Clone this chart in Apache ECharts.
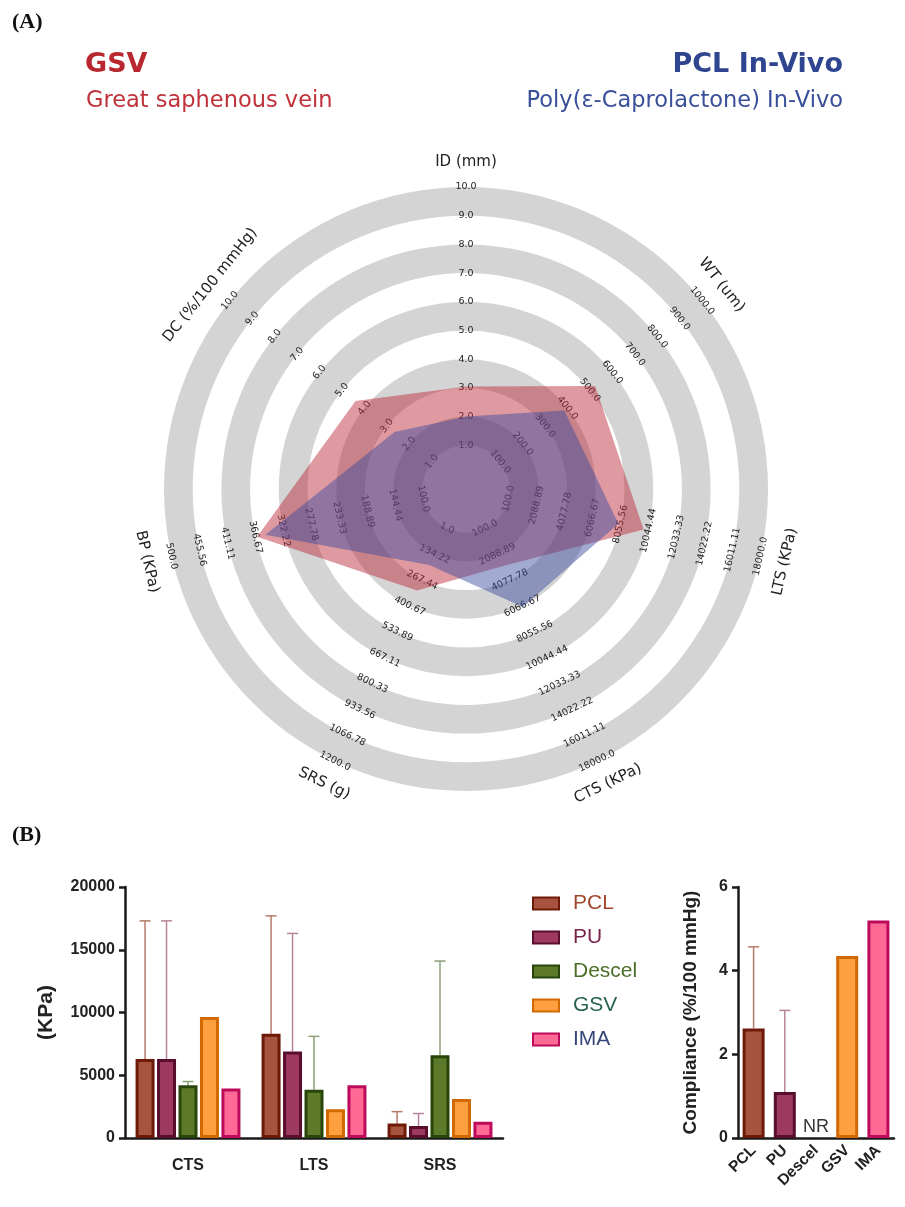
<!DOCTYPE html>
<html><head><meta charset="utf-8">
<script src="https://cdn.jsdelivr.net/npm/echarts@6/dist/echarts.min.js"></script>
<style>html,body{margin:0;padding:0;background:#fff}#c{width:905px;height:1207px}</style>
</head><body><div id="c"></div>
<script>
// ---------- Radar (A) ----------
// axes listed counter-clockwise starting at the top
const radarAxes = ['ID (mm)', 'DC (%/100 mmHg)', 'BP (KPa)', 'SRS (g)', 'CTS (KPa)', 'LTS (KPa)', 'WT (um)'];
const ticksID  = ['1.0','2.0','3.0','4.0','5.0','6.0','7.0','8.0','9.0','10.0'];
const ticksDC  = ['1.0','2.0','3.0','4.0','5.0','6.0','7.0','8.0','9.0','10.0'];
const ticksBP  = ['100.0','144.44','188.89','233.33','277.78','322.22','366.67','411.11','455.56','500.0'];
const ticksSRS = ['1.0','134.22','267.44','400.67','533.89','667.11','800.33','933.56','1066.78','1200.0'];
const ticksCTS = ['100.0','2088.89','4077.78','6066.67','8055.56','10044.44','12033.33','14022.22','16011.11','18000.0'];
const ticksLTS = ['100.0','2088.89','4077.78','6066.67','8055.56','10044.44','12033.33','14022.22','16011.11','18000.0'];
const ticksWT  = ['100.0','200.0','300.0','400.0','500.0','600.0','700.0','800.0','900.0','1000.0'];
const radarTicks = [ticksID, ticksDC, ticksBP, ticksSRS, ticksCTS, ticksLTS, ticksWT];
// values in axis order above
const gsvRadar = [3.05, 4.4, 364, 321, 3000, 9700, 523];
const pclRadar = [2.0, 2.66, 351, 190, 6150, 7900, 386];

// ---------- Bars (B) ----------
const barCats = ['CTS', 'LTS', 'SRS'];
const groups = ['PCL', 'PU', 'Descel', 'GSV', 'IMA'];
const pclVals = [6300, 8300, 1150];
const puVals = [6300, 6900, 950];
const descelVals = [4200, 3850, 6600];
const gsvVals = [9650, 2300, 3100];
const imaVals = [3950, 4200, 1300];
const pclErr = [17300, 17700, 2100];
const puErr = [17300, 16300, 1950];
const descelErr = [4500, 8100, 14100];
const yTicksKPa = [0, 5000, 10000, 15000, 20000];

const compCats = ['PCL', 'PU', 'Descel', 'GSV', 'IMA'];
const compVals = [2.62, 1.1, 0, 4.35, 5.2];
const compErr = [4.57, 3.05, null, null, null];

// ---------- styles ----------
const fills = ['#a6543e', '#9e3a5f', '#5c7a2a', '#ffa040', '#ff6996'];
const borders = ['#6e1a08', '#5a0e2d', '#28460a', '#d26900', '#be0a5a'];
const errColors = ['#b57a68', '#b6849a', '#8c9f78'];
const legendColors = ['#a0482d', '#7a234b', '#4b6e28', '#286450', '#374678'];

const BAR_W = 19, BAR_GAP = 0.13, STEP = BAR_W * (1 + BAR_GAP);

function rotFor(i) {
  let a = 90 + i * 360 / radarAxes.length - 90;
  while (a > 90) a -= 180;
  while (a <= -90) a += 180;
  return a;
}

const indicators = radarAxes.map((name, i) => {
  const t = radarTicks[i].map(Number);
  const step = (t[t.length - 1] - t[0]) / (t.length - 1);
  const r = rotFor(i);
  return {
    name: name,
    min: t[0] - step,
    max: t[t.length - 1],
    nameRotate: r,
    axisLabel: {
      rotate: r,
      formatter: (v, idx) => idx === 0 ? '' : radarTicks[i][idx - 1]
    }
  };
});

const chart = echarts.init(document.getElementById('c'), null, {renderer: 'canvas'});
const sans = 'Liberation Sans, Arial, sans-serif';
const dj = 'DejaVu Sans, sans-serif';

const barSeries = [pclVals, puVals, descelVals, gsvVals, imaVals].map((d, s) => ({
  name: groups[s], type: 'bar', xAxisIndex: 0, yAxisIndex: 0,
  data: d, barWidth: BAR_W, barGap: (BAR_GAP * 100) + '%',
  itemStyle: {color: fills[s], borderColor: borders[s], borderWidth: 3},
  z: 3
}));

const errData = [];
[pclErr, puErr, descelErr].forEach((arr, s) => {
  const vals = [pclVals, puVals, descelVals][s];
  arr.forEach((e, c) => errData.push([c, s, vals[c], e]));
});

function errRender(step) {
  return function (params, api) {
    const c = api.value(0), s = api.value(1), v = api.value(2), e = api.value(3);
    const p0 = api.coord([c, v]);
    const p1 = api.coord([c, e]);
    const x = p0[0] + (s - 2) * step;
    const st = {stroke: errColors[s], lineWidth: 1.5};
    return {type: 'group', children: [
      {type: 'line', shape: {x1: x, y1: p0[1], x2: x, y2: p1[1]}, style: st},
      {type: 'line', shape: {x1: x - 5.5, y1: p1[1], x2: x + 5.5, y2: p1[1]}, style: st}
    ]};
  };
}

const compErrData = [];
compErr.forEach((e, c) => { if (e != null) compErrData.push([c, c, compVals[c], e]); });

const axisLineStyle = {color: '#1a1a1a', width: 2.5};

const option = {
  backgroundColor: '#ffffff',
  animation: false,
  title: [
    {text: '(A)', left: 12, top: 11, padding: 0, textStyle: {fontFamily: 'Liberation Serif, serif', fontWeight: 'bold', fontSize: 22, color: '#111'}},
    {text: 'GSV', left: 85, top: 51, padding: 0, textStyle: {fontFamily: dj, fontWeight: 'bold', fontSize: 27, color: '#b8272f'}},
    {text: 'Great saphenous vein', left: 86, top: 90, padding: 0, textStyle: {fontFamily: dj, fontWeight: 'normal', fontSize: 22.5, color: '#c0323b'}},
    {text: 'PCL In-Vivo', right: 62, top: 51, padding: 0, textStyle: {fontFamily: dj, fontWeight: 'bold', fontSize: 27, color: '#2f4590'}},
    {text: 'Poly(ε-Caprolactone) In-Vivo', right: 62, top: 90, padding: 0, textStyle: {fontFamily: dj, fontWeight: 'normal', fontSize: 22.5, color: '#3a4f9a'}},
    {text: '(B)', left: 12, top: 824, padding: 0, textStyle: {fontFamily: 'Liberation Serif, serif', fontWeight: 'bold', fontSize: 22, color: '#111'}}
  ],
  radar: {
    center: [466, 489],
    radius: [15, 302],
    startAngle: 90,
    shape: 'circle',
    splitNumber: 10,
    indicator: indicators,
    axisName: {color: '#222', fontSize: 15, fontFamily: dj, align: 'center', verticalAlign: 'middle'},
    axisNameGap: 25,
    splitArea: {show: true, areaStyle: {color: ['#ffffff', '#d4d4d4']}},
    splitLine: {show: false},
    axisLine: {show: false},
    axisTick: {show: false},
    axisLabel: {show: true, color: '#222', fontSize: 9.5, fontFamily: dj, margin: 0, align: 'center', verticalAlign: 'middle', hideOverlap: false}
  },
  legend: {
    left: 532, top: 893, padding: 0, orient: 'vertical', itemWidth: 26, itemHeight: 12, itemGap: 13,
    icon: 'rect',
    textStyle: {fontFamily: sans, fontSize: 21, padding: [0, 0, 0, 9]},
    data: groups.map((g, s) => ({name: g, textStyle: {color: legendColors[s]}}))
  },
  grid: [
    {left: 125, top: 887, width: 378, height: 251},
    {left: 738, top: 887, width: 156, height: 251}
  ],
  xAxis: [
    {type: 'category', gridIndex: 0, data: barCats,
     axisLine: {lineStyle: axisLineStyle}, axisTick: {alignWithLabel: true, length: 7, lineStyle: axisLineStyle},
     axisLabel: {fontFamily: sans, fontWeight: 'bold', fontSize: 16, color: '#222', margin: 20}},
    {type: 'category', gridIndex: 1, data: compCats,
     axisLine: {lineStyle: axisLineStyle}, axisTick: {alignWithLabel: true, length: 7, lineStyle: axisLineStyle},
     axisLabel: {fontFamily: sans, fontWeight: 'bold', fontSize: 15.5, color: '#222', rotate: 45, margin: 10, interval: 0}}
  ],
  yAxis: [
    {type: 'value', gridIndex: 0, min: yTicksKPa[0], max: yTicksKPa[yTicksKPa.length - 1], interval: yTicksKPa[1] - yTicksKPa[0],
     name: '(KPa)', nameLocation: 'middle', nameGap: 68,
     nameTextStyle: {fontFamily: sans, fontWeight: 'bold', fontSize: 21, color: '#222'},
     axisLine: {show: true, lineStyle: axisLineStyle}, axisTick: {show: true, length: 6, lineStyle: axisLineStyle},
     splitLine: {show: false},
     axisLabel: {fontFamily: sans, fontWeight: 'bold', fontSize: 16, color: '#222', margin: 10, formatter: v => String(v)}},
    {type: 'value', gridIndex: 1, min: 0, max: 6, interval: 2,
     name: 'Compliance (%/100 mmHg)', nameLocation: 'middle', nameGap: 38,
     nameTextStyle: {fontFamily: sans, fontWeight: 'bold', fontSize: 19, color: '#222'},
     axisLine: {show: true, lineStyle: axisLineStyle}, axisTick: {show: true, length: 6, lineStyle: axisLineStyle},
     splitLine: {show: false},
     axisLabel: {fontFamily: sans, fontWeight: 'bold', fontSize: 16, color: '#222', margin: 10}}
  ],
  series: [
    {
      type: 'radar',
      symbol: 'none',
      lineStyle: {width: 0},
      data: [
        {name: 'GSV', value: gsvRadar, areaStyle: {color: 'rgba(186,40,56,0.68)'}},
        {name: 'PCL In-Vivo', value: pclRadar, areaStyle: {color: 'rgba(58,76,158,0.68)'}}
      ]
    },
    ...barSeries,
    {
      type: 'custom', xAxisIndex: 0, yAxisIndex: 0, z: 2,
      renderItem: errRender(STEP), data: errData
    },
    {
      type: 'bar', xAxisIndex: 1, yAxisIndex: 1, barWidth: 22, z: 3,
      data: compVals.map((v, c) => ({
        value: v,
        itemStyle: c === 2 ? {color: 'rgba(0,0,0,0)', borderWidth: 0} : {color: fills[c], borderColor: borders[c], borderWidth: 3},
        label: c === 2 ? {show: true, position: 'top', formatter: 'NR', fontFamily: sans, fontSize: 18, color: '#333', distance: 2} : {show: false}
      }))
    },
    {
      type: 'custom', xAxisIndex: 1, yAxisIndex: 1, z: 2,
      renderItem: errRender(0), data: compErrData
    }
  ]
};
chart.setOption(option);
</script></body></html>
